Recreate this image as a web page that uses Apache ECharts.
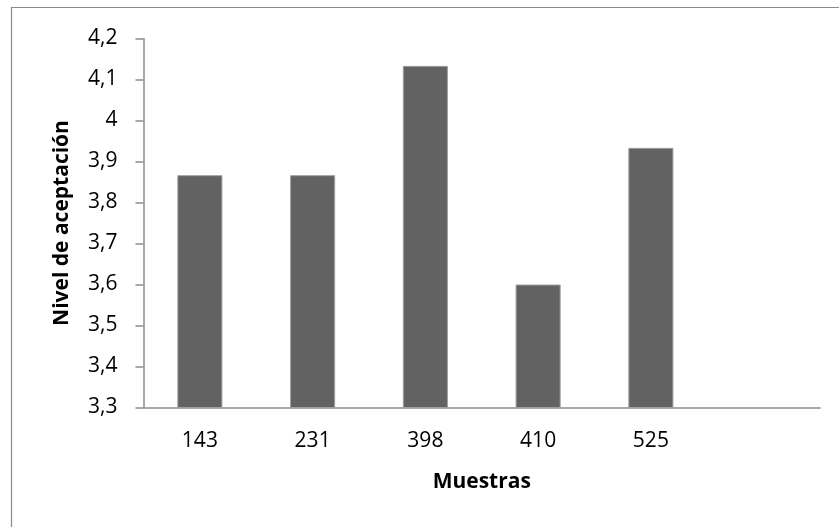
<!DOCTYPE html>
<html>
<head>
<meta charset="utf-8">
<script src="https://cdn.jsdelivr.net/npm/echarts@6/dist/echarts.min.js"></script>
<style>
  html, body { margin: 0; padding: 0; background: #ffffff; }
  #chart { width: 839px; height: 527px; }
</style>
</head>
<body>
<div id="chart"></div>
<script>
// Sample codes (the last slot is left empty on the axis)
const muestras = ['143', '231', '398', '410', '525', ''];
// Mean acceptance level per sample
const nivel = [3.8667, 3.8667, 4.1333, 3.6, 3.9333, null];
// Value axis range
const yMin = 3.3;
const yMax = 4.2;
const yStep = 0.1;

const FONT = '"Open Sans"';
const chart = echarts.init(document.getElementById('chart'), null, { renderer: 'canvas' });

chart.setOption({
  backgroundColor: '#ffffff',
  animation: false,
  graphic: [{
    type: 'rect',
    shape: { x: 11.5, y: 7.5, width: 900, height: 600 },
    style: { fill: 'none', stroke: '#8a8a8a', lineWidth: 1.2 },
    silent: true
  }],
  grid: { left: 143.5, right: 19, top: 38.5, bottom: 119.5 },
  xAxis: {
    type: 'category',
    data: muestras,
    name: 'Muestras',
    nameLocation: 'middle',
    nameGap: 64,
    nameTextStyle: { fontFamily: FONT, fontWeight: 'bold', fontSize: 21, color: '#000' },
    axisLine: { lineStyle: { color: '#8c8c8c', width: 1.5 } },
    axisTick: { show: false },
    axisLabel: { fontFamily: FONT, fontSize: 21, color: '#000', margin: 23 },
    splitLine: { show: false }
  },
  yAxis: {
    type: 'value',
    min: yMin,
    max: yMax,
    interval: yStep,
    name: 'Nivel de aceptación',
    nameLocation: 'middle',
    nameGap: 71,
    nameRotate: 90,
    nameTextStyle: { fontFamily: FONT, fontWeight: 'bold', fontSize: 21, color: '#000' },
    axisLine: { show: true, lineStyle: { color: '#8c8c8c', width: 1.5 } },
    axisTick: { show: true, inside: false, length: 8, lineStyle: { color: '#8c8c8c', width: 1.5 } },
    axisLabel: {
      fontFamily: FONT, fontSize: 21, color: '#000', margin: 26,
      formatter: v => String(Math.round(v * 10) / 10).replace('.', ',')
    },
    splitLine: { show: false }
  },
  series: [{
    type: 'bar',
    data: nivel,
    barWidth: '40%',
    itemStyle: { color: '#626262', borderColor: '#a0a0a0', borderWidth: 1 }
  }]
});
</script>
</body>
</html>
